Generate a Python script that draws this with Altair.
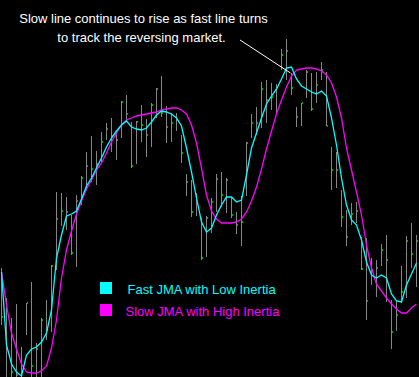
import altair as alt
import pandas as pd

# ---- data (price units) ----
bars = list(range(84))
high = [132, 102, 82, 96, 53, 97, 118, 57, 82, 100, 135, 208, 207, 203, 185, 205, 224, 248, 264, 249,
        268, 277, 282, 268, 299, 305, 278, 279, 295, 281, 297, 312, 324, 294, 287, 287, 265, 226, 220, 207,
        182, 184, 202, 226, 228, 222, 203, 188, 204, 258, 286, 293, 318, 320, 317, 316, 351, 361, 327, 293,
        297, 330, 327, 328, 338, 328, 253, 248, 210, 190, 197, 198, 163, 162, 142, 140, 156, 165, 100, 100,
        134, 164, 177, 165]
low = [75, 20, 20, 20, 20, 65, 20, 20, 20, 60, 68, 130, 174, 170, 145, 133, 195, 210, 218, 215,
       237, 260, 248, 240, 262, 278, 232, 236, 258, 243, 253, 282, 283, 257, 258, 269, 237, 204, 183, 184,
       140, 143, 167, 188, 193, 187, 182, 166, 154, 204, 262, 265, 272, 277, 290, 285, 330, 320, 305, 273,
       274, 302, 289, 297, 320, 274, 210, 212, 173, 154, 175, 177, 130, 80, 115, 103, 134, 98, 51, 69,
       97, 102, 132, 113]
close = [83, 22, 28, 25, 28, 97, 34, 51, 80, 70, 134, 181, 189, 188, 147, 199, 222, 234, 231, 236,
         258, 271, 264, 260, 298, 286, 234, 278, 275, 265, 295, 311, 287, 273, 277, 280, 247, 218, 188, 197,
         142, 182, 198, 221, 205, 220, 185, 175, 178, 257, 277, 277, 311, 300, 303, 313, 345, 349, 312, 283,
         297, 328, 291, 315, 330, 274, 230, 230, 183, 163, 186, 189, 131, 99, 130, 132, 150, 140, 68, 85,
         108, 159, 146, 159]
fast_jma = [128, 55, 36, 28, 24, 45, 51, 53, 58, 67, 90, 142, 165, 184, 186, 189, 201, 214, 222, 232,
            242, 253, 262, 269, 275, 279, 273, 271, 270, 272, 278, 285, 289, 288, 286, 282, 274, 252, 228, 202,
            178, 168, 172, 185, 195, 203, 203, 198, 200, 225, 252, 267, 282, 296, 304, 311, 321, 332, 333, 321,
            314, 311, 308, 306, 309, 304, 282, 255, 222, 195, 180, 175, 160, 138, 125, 122, 125, 122, 106, 99,
            98, 115, 126, 137]
slow_jma = [128, 95, 67, 51, 36, 28, 27, 27, 29, 34, 52, 80, 122, 150, 169, 186, 199, 211, 220, 230,
            237, 247, 258, 267, 275, 280, 282, 284, 285, 286, 287, 288, 290, 291, 292, 292, 290, 286, 275, 257,
            232, 205, 189, 181, 177, 177, 177, 178, 181, 188, 199, 213, 231, 251, 269, 286, 300, 313, 324, 330,
            331, 332, 332, 331, 329, 325, 317, 303, 282, 252, 230, 208, 185, 155, 132, 116, 109, 102, 96, 91,
            87, 87, 92, 96]

note_lines = ["Slow line continues to rise as fast line turns", "to track the reversing market."]
legend_names = ["Fast JMA with Low Inertia", "Slow JMA with High Inertia"]
legend_colors = ["#00ffff", "#ff00ff"]
pointer_bar = 57.8
pointer_price = 327

df = pd.DataFrame({"bar": bars, "high": high, "low": low, "close": close,
                   "fast": fast_jma, "slow": slow_jma})

FONT = "Liberation Sans"
xs = alt.Scale(domain=[-0.3, 83.5], nice=False, zero=False)
ys = alt.Scale(domain=[23, 400], nice=False, zero=False)

base = alt.Chart(df)

ranges = base.mark_rule(color="#868686", strokeWidth=1, clip=True).encode(
    x=alt.X("bar:Q", scale=xs, axis=None),
    y=alt.Y("low:Q", scale=ys, axis=None),
    y2="high:Q",
)

ticks = base.transform_calculate(
    t0="datum.bar + 0.1", t1="datum.bar + 0.32"
).mark_rule(color="#00e000", strokeWidth=1.6, clip=True).encode(
    x=alt.X("t0:Q", scale=xs, axis=None),
    x2="t1:Q",
    y=alt.Y("close:Q", scale=ys, axis=None),
)

slow_line = base.mark_line(color="#ff00ff", strokeWidth=1.3, clip=True).encode(
    x=alt.X("bar:Q", scale=xs, axis=None),
    y=alt.Y("slow:Q", scale=ys, axis=None),
)

fast_line = base.mark_line(color="#00ffff", strokeWidth=1.3, clip=True).encode(
    x=alt.X("bar:Q", scale=xs, axis=None),
    y=alt.Y("fast:Q", scale=ys, axis=None),
)

one = alt.Chart(pd.DataFrame({"k": [0]}))

pointer = one.mark_rule(color="white", strokeWidth=1).encode(
    x=alt.datum(pointer_bar, scale=xs, axis=None),
    y=alt.datum(pointer_price, scale=ys, axis=None),
    x2=alt.value(240),
    y2=alt.value(40),
)

note1 = one.mark_text(text=note_lines[0], font=FONT, fontSize=13, color="white",
                      align="center", baseline="alphabetic").encode(
    x=alt.value(143.5), y=alt.value(23))
note2 = one.mark_text(text=note_lines[1], font=FONT, fontSize=13, color="white",
                      align="center", baseline="alphabetic").encode(
    x=alt.value(141.5), y=alt.value(41.5))

sq1 = one.mark_square(color=legend_colors[0], size=144, opacity=1, filled=True).encode(
    x=alt.value(106), y=alt.value(288))
sq2 = one.mark_square(color=legend_colors[1], size=144, opacity=1, filled=True).encode(
    x=alt.value(106), y=alt.value(310))
lt1 = one.mark_text(text=legend_names[0], font=FONT, fontSize=13, color=legend_colors[0],
                    align="left", baseline="alphabetic").encode(
    x=alt.value(127.5), y=alt.value(294))
lt2 = one.mark_text(text=legend_names[1], font=FONT, fontSize=13, color=legend_colors[1],
                    align="left", baseline="alphabetic").encode(
    x=alt.value(125.5), y=alt.value(315.5))

chart = alt.layer(
    ranges, ticks, slow_line, fast_line, pointer, note1, note2, sq1, sq2, lt1, lt2
).properties(
    width=419, height=377, background="black", padding=0,
    autosize=alt.AutoSizeParams(type="none"),
).configure_view(stroke=None)

chart.save("out.html", embed_options={"renderer": "svg", "actions": False})
